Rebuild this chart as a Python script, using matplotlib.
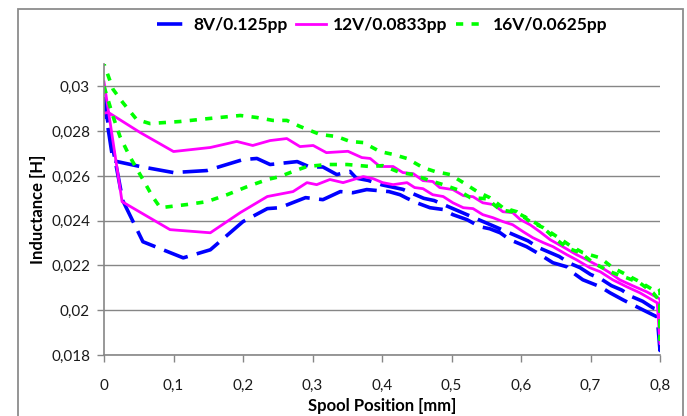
import matplotlib
matplotlib.use("Agg")
import matplotlib.pyplot as plt
from matplotlib.ticker import FuncFormatter
from matplotlib.patches import Rectangle

plt.rcParams['font.family'] = ['Lato', 'DejaVu Sans']

labels = ["8V/0.125pp", "12V/0.0833pp", "16V/0.0625pp"]

# 8V series: lower branch (0 -> 0.8), then upper branch (0.8 -> 0)
x8 = [0, 0.005, 0.027, 0.056, 0.114, 0.153, 0.2, 0.235, 0.253, 0.29, 0.315, 0.34, 0.358, 0.378,
      0.41, 0.426, 0.436, 0.45, 0.469, 0.488, 0.502, 0.522, 0.541, 0.555, 0.57, 0.584, 0.608,
      0.623, 0.646, 0.666, 0.675, 0.689, 0.714, 0.728, 0.747, 0.761, 0.781, 0.796, 0.8,
      0.8, 0.79, 0.775, 0.76, 0.745, 0.73, 0.715, 0.70, 0.685, 0.67, 0.655, 0.64, 0.625, 0.61,
      0.595, 0.58, 0.565, 0.55, 0.535, 0.52, 0.505, 0.49, 0.475, 0.46, 0.445, 0.43, 0.415,
      0.40, 0.38, 0.363, 0.354, 0.335, 0.315, 0.296, 0.278, 0.239, 0.22, 0.2, 0.148, 0.1,
      0.052, 0.013, 0.003, 0]
y8 = [0.0295, 0.0285, 0.0249, 0.02306, 0.02234, 0.0227, 0.02396, 0.02454, 0.02458, 0.02503,
      0.02494, 0.0253, 0.02525, 0.02539, 0.0253, 0.02516, 0.0250, 0.0248, 0.02458, 0.0245,
      0.02427, 0.02405, 0.02373, 0.02364, 0.02346, 0.02315, 0.02284, 0.02257, 0.02212,
      0.02194, 0.02167, 0.02136, 0.02105, 0.02078, 0.02046, 0.02024, 0.01993, 0.0197, 0.0182,
      0.0200, 0.0201, 0.0204, 0.0206, 0.0209, 0.0211, 0.0214, 0.0216, 0.0219, 0.0221,
      0.0224, 0.0226, 0.0228, 0.0231, 0.0233, 0.0235, 0.0237, 0.0239, 0.0241, 0.0243,
      0.0245, 0.0247, 0.0249, 0.0250, 0.0252, 0.0254, 0.0255, 0.0256, 0.0258, 0.0259,
      0.0262, 0.02606, 0.0264, 0.0264, 0.02664, 0.02651, 0.02678, 0.02673, 0.02624,
      0.02615, 0.02642, 0.02668, 0.0287, 0.0295]

# 12V series
x12 = [0, 0.026, 0.095, 0.153, 0.196, 0.235, 0.272, 0.292, 0.306, 0.325, 0.344, 0.373, 0.387,
       0.401, 0.416, 0.436, 0.447, 0.459, 0.473, 0.488, 0.502, 0.517, 0.531, 0.545, 0.56,
       0.574, 0.588, 0.603, 0.617, 0.632, 0.646, 0.666, 0.68, 0.699, 0.714, 0.732, 0.752,
       0.771, 0.796, 0.8,
       0.8, 0.797, 0.781, 0.761, 0.742, 0.728, 0.714, 0.695, 0.68, 0.66, 0.642, 0.627, 0.613,
       0.599, 0.588, 0.574, 0.56, 0.545, 0.531, 0.517, 0.502, 0.483, 0.473, 0.459, 0.445,
       0.43, 0.416, 0.397, 0.383, 0.371, 0.351, 0.32, 0.301, 0.282, 0.263, 0.239, 0.214,
       0.191, 0.153, 0.1, 0.052, 0.006, 0]
y12 = [0.0302, 0.02485, 0.0236, 0.02346, 0.02436, 0.02508, 0.0253, 0.0257, 0.02561, 0.02584,
       0.0257, 0.02597, 0.02588, 0.0257, 0.02561, 0.0257, 0.02548, 0.02543, 0.02516, 0.02508,
       0.0248, 0.02458, 0.02454, 0.02427, 0.02413, 0.02396, 0.02382, 0.02351, 0.02324,
       0.02302, 0.02284, 0.02248, 0.02225, 0.0219, 0.02172, 0.02136, 0.02105, 0.02078,
       0.02033, 0.0185,
       0.0205, 0.02055, 0.02082, 0.02109, 0.02136, 0.02167, 0.02194, 0.02225, 0.02248,
       0.02284, 0.02315, 0.02351, 0.02382, 0.02405, 0.02436, 0.0244, 0.02472, 0.0248,
       0.02507, 0.02512, 0.02539, 0.02548, 0.02575, 0.02579, 0.0261, 0.02615, 0.02642,
       0.02642, 0.02678, 0.02682, 0.0271, 0.02704, 0.02736, 0.02731, 0.02767, 0.02758,
       0.02736, 0.02754, 0.02727, 0.02709, 0.02794, 0.02884, 0.0288]

# 16V series
x16 = [0, 0.013, 0.023, 0.037, 0.056, 0.07, 0.081, 0.119, 0.148, 0.177, 0.206, 0.235, 0.253,
       0.272, 0.292, 0.321, 0.35, 0.383, 0.401, 0.426, 0.445, 0.468, 0.488, 0.508, 0.527,
       0.551, 0.57, 0.594, 0.613, 0.632, 0.646, 0.666, 0.685, 0.704, 0.728, 0.752, 0.771,
       0.79, 0.8, 0.8,
       0.8, 0.797, 0.79, 0.771, 0.752, 0.732, 0.714, 0.689, 0.671, 0.652, 0.632, 0.613,
       0.594, 0.574, 0.555, 0.537, 0.517, 0.498, 0.476, 0.459, 0.436, 0.416, 0.397, 0.373,
       0.354, 0.335, 0.311, 0.282, 0.263, 0.243, 0.22, 0.196, 0.153, 0.109, 0.066, 0.047,
       0.027, 0.013, 0]
y16 = [0.0300, 0.02866, 0.02776, 0.02687, 0.02584, 0.02507, 0.02458, 0.02472, 0.02485,
       0.02516, 0.02552, 0.02584, 0.02597, 0.0262, 0.02642, 0.02651, 0.02651, 0.02642,
       0.02646, 0.02615, 0.02606, 0.0258, 0.02561, 0.02539, 0.02503, 0.02498, 0.02449,
       0.02436, 0.02405, 0.02369, 0.02328, 0.02279, 0.02257, 0.02212, 0.02172, 0.02145,
       0.02122, 0.02078, 0.0204, 0.0187,
       0.0209, 0.02082, 0.02091, 0.02127, 0.02158, 0.0219, 0.02234, 0.02257, 0.02288,
       0.02328, 0.02369, 0.02396, 0.0244, 0.02458, 0.02503, 0.0253, 0.0257, 0.02606,
       0.0262, 0.02637, 0.02678, 0.02696, 0.02709, 0.02749, 0.02754, 0.02776, 0.02785,
       0.02821, 0.02848, 0.02848, 0.02861, 0.0287, 0.02857, 0.02843, 0.02834, 0.02852,
       0.02928, 0.02987, 0.0310]

xticks = [0, 0.1, 0.2, 0.3, 0.4, 0.5, 0.6, 0.7, 0.8]
yticks = [0.018, 0.020, 0.022, 0.024, 0.026, 0.028, 0.030]

W, H = 687, 416
fig = plt.figure(figsize=(W / 100, H / 100), dpi=100)
fig.patch.set_facecolor('white')
# outer chart border
fig.patches.append(Rectangle((18 / W, -0.05), (683 - 18) / W, 1.05 - 9 / H,
                             transform=fig.transFigure, fill=False,
                             edgecolor='#8c8c8c', linewidth=1.3))

ax = fig.add_axes([104 / W, 1 - 355 / H, (660 - 104) / W, (355 - 64) / H])
gray = '#868686'

ax.plot(x8, y8, color='#0000FF', lw=2.6, dashes=(7, 2.6), label=labels[0])
ax.plot(x12, y12, color='#FF00FF', lw=2.0, label=labels[1])
ax.plot(x16, y16, color='#00FF00', lw=2.6, dashes=(2.0, 2.3), label=labels[2])

ax.set_xlim(0, 0.8)
ax.set_ylim(0.018, 0.031)
ax.set_xticks(xticks)
ax.set_yticks(yticks)


def comma(v, pos):
    s = ('%.3f' % v).rstrip('0').rstrip('.')
    return s.replace('.', ',')


def commax(v, pos):
    s = ('%.1f' % v).rstrip('0').rstrip('.')
    return s.replace('.', ',')


ax.yaxis.set_major_formatter(FuncFormatter(comma))
ax.xaxis.set_major_formatter(FuncFormatter(commax))
ax.yaxis.grid(True, color=gray, lw=1)
ax.set_axisbelow(True)
for s in ['top', 'right']:
    ax.spines[s].set_visible(False)
for s in ['left', 'bottom']:
    ax.spines[s].set_color(gray)
    ax.spines[s].set_linewidth(1.2)
ax.tick_params(axis='both', direction='out', length=5, color=gray, width=1,
               labelsize=11, labelcolor='#1a1a1a')
ax.tick_params(axis='y', pad=5)
ax.tick_params(axis='x', pad=12)

ax.set_xlabel('Spool Position [mm]', fontsize=12, fontweight='bold', labelpad=4)
ax.set_ylabel('Inductance [H]', fontsize=12, fontweight='bold', labelpad=4)

fig.legend(loc='center', bbox_to_anchor=(382 / W, 1 - 25 / H), ncol=3, frameon=False,
           prop={'size': 12.5, 'weight': 'bold'}, handlelength=1.7, columnspacing=0.5,
           handletextpad=0.4)

fig.savefig('out.png', dpi=100)
